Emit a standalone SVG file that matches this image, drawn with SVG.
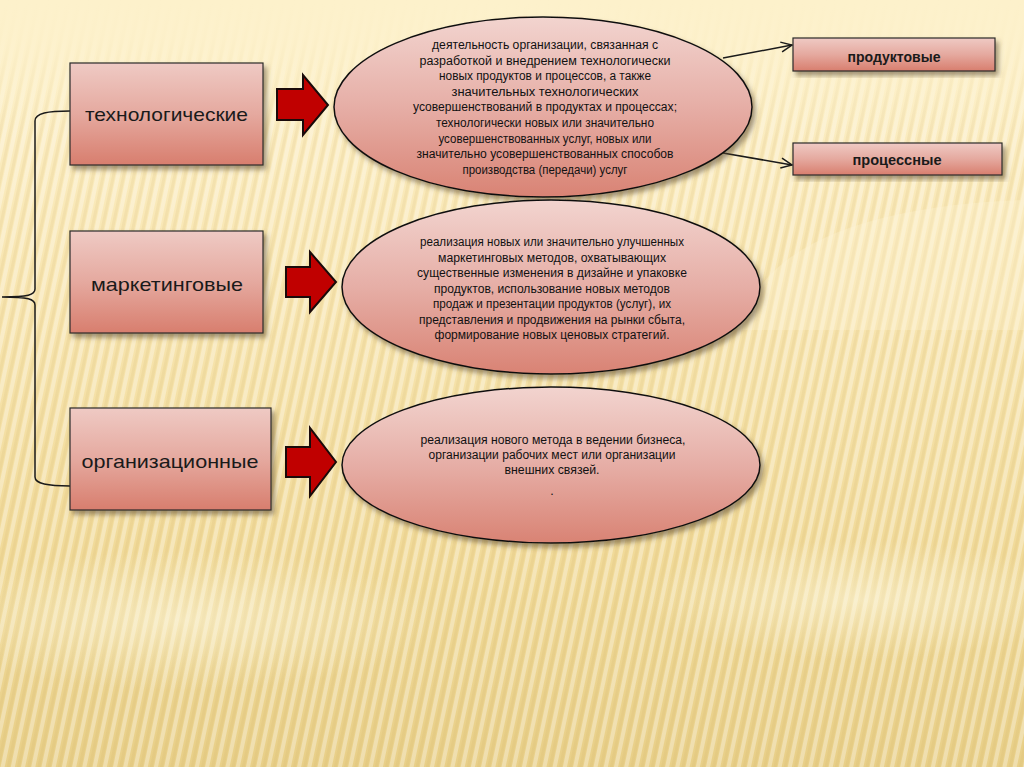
<svg xmlns="http://www.w3.org/2000/svg" width="1024" height="767" viewBox="0 0 1024 767">
<defs>
  <linearGradient id="bg" x1="0" y1="0" x2="0" y2="1">
    <stop offset="0" stop-color="#fdf1cb"/>
    <stop offset="0.35" stop-color="#f8e6b2"/>
    <stop offset="0.75" stop-color="#f0d997"/>
    <stop offset="1" stop-color="#e8cf88"/>
  </linearGradient>
  <linearGradient id="fadeTop" x1="0" y1="0" x2="0" y2="1">
    <stop offset="0" stop-color="#fdf1cb" stop-opacity="1"/>
    <stop offset="0.05" stop-color="#fdf1cb" stop-opacity="0.9"/>
    <stop offset="0.18" stop-color="#fdf1cb" stop-opacity="0"/>
  </linearGradient>
  <pattern id="stripes" width="10" height="40" patternUnits="userSpaceOnUse" patternTransform="rotate(12)">
    <rect x="0" y="0" width="4" height="40" fill="#ffffff" opacity="0.32"/>
    <rect x="6" y="0" width="3" height="40" fill="#c9a95a" opacity="0.12"/>
  </pattern>
  <radialGradient id="glow" cx="0.5" cy="0.5" r="0.5">
    <stop offset="0" stop-color="#fffbe6" stop-opacity="0.5"/>
    <stop offset="1" stop-color="#fffbe6" stop-opacity="0"/>
  </radialGradient>
  <linearGradient id="boxGrad" x1="0" y1="0" x2="0" y2="1">
    <stop offset="0" stop-color="#efcac4"/>
    <stop offset="0.5" stop-color="#e5a99f"/>
    <stop offset="1" stop-color="#d87e6e"/>
  </linearGradient>
  <linearGradient id="ellGrad" x1="0" y1="0" x2="0" y2="1">
    <stop offset="0" stop-color="#f2d4cf"/>
    <stop offset="0.5" stop-color="#e6aea6"/>
    <stop offset="1" stop-color="#d98374"/>
  </linearGradient>
  <filter id="shadow" x="-10%" y="-10%" width="125%" height="130%">
    <feDropShadow dx="3" dy="4" stdDeviation="2.5" flood-color="#5a4a30" flood-opacity="0.55"/>
  </filter>
  <marker id="open" markerWidth="14" markerHeight="12" refX="12" refY="6" orient="auto" markerUnits="userSpaceOnUse">
    <path d="M1,1 L12,6 L1,11" fill="none" stroke="#1a1a1a" stroke-width="1.5"/>
  </marker>
  <style>
    .box { fill: url(#boxGrad); stroke: #2a2a2a; stroke-width: 1.2; filter: url(#shadow); }
    .ell { fill: url(#ellGrad); stroke: #111; stroke-width: 1.5; filter: url(#shadow); }
    .arrow { fill: #c00000; stroke: #1a0a0a; stroke-width: 2; stroke-linejoin: miter; }
    .lbl { font-family: "Liberation Sans", Arial, sans-serif; font-size: 18.5px; fill: #1a1a1a; text-anchor: middle; }
    .lblb { font-family: "Liberation Sans", Arial, sans-serif; font-size: 15px; font-weight: bold; fill: #1a1a1a; text-anchor: middle; }
    .et { font-family: "Liberation Sans", Arial, sans-serif; font-size: 12.5px; fill: #111; text-anchor: middle; }
    .conn { fill: none; stroke: #1a1a1a; stroke-width: 1.5; }
  </style>
</defs>

<!-- background -->
<rect x="0" y="0" width="1024" height="767" fill="url(#bg)"/>
<rect x="0" y="0" width="1024" height="767" fill="url(#stripes)"/>
<rect x="0" y="0" width="1024" height="767" fill="url(#fadeTop)"/>
<path d="M740,330 C760,240 880,205 1024,200 L1024,330 Z" fill="#fff6d8" opacity="0.3"/>
<ellipse cx="180" cy="620" rx="260" ry="70" fill="url(#glow)"/>
<ellipse cx="860" cy="600" rx="220" ry="60" fill="url(#glow)"/>

<!-- connectors -->
<g id="connectors">
  <path class="conn" d="M70,111 C48,111 35,113 35,121 L35,289 C35,295 28,297 2,297 C28,297 35,299 35,305 L35,477 C35,484 48,486 70,486"/>
  <line class="conn" x1="723" y1="58" x2="792" y2="45" marker-end="url(#open)"/>
  <line class="conn" x1="723" y1="153" x2="792" y2="165" marker-end="url(#open)"/>
  <path class="arrow" d="M277,89 H303 V75 L328,105 L303,135 V120 H277 Z"/>
  <path class="arrow" d="M286,267 H310 V252 L336,282 L310,312 V297 H286 Z"/>
  <path class="arrow" d="M286,447 H310 V428 L336,462 L310,496 V477 H286 Z"/>
</g>

<!-- left boxes -->
<g id="n-tech">
  <rect class="box" x="70" y="63" width="193" height="102"/>
  <text class="lbl" x="166.5" y="121" textLength="163" lengthAdjust="spacingAndGlyphs">технологические</text>
</g>
<g id="n-mark">
  <rect class="box" x="70" y="231" width="193" height="102"/>
  <text class="lbl" x="167" y="291" textLength="152" lengthAdjust="spacingAndGlyphs">маркетинговые</text>
</g>
<g id="n-org">
  <rect class="box" x="70" y="408" width="201" height="102"/>
  <text class="lbl" x="170" y="468" textLength="177" lengthAdjust="spacingAndGlyphs">организационные</text>
</g>

<!-- ellipses -->
<g id="e-tech">
  <ellipse class="ell" cx="543" cy="107" rx="209" ry="90"/>
  <text class="et" x="545" y="49" textLength="226" lengthAdjust="spacingAndGlyphs">деятельность организации, связанная с</text>
  <text class="et" x="545" y="65" textLength="251" lengthAdjust="spacingAndGlyphs">разработкой и внедрением технологически</text>
  <text class="et" x="545" y="80" textLength="212" lengthAdjust="spacingAndGlyphs">новых продуктов и процессов, а также</text>
  <text class="et" x="545" y="96" textLength="187" lengthAdjust="spacingAndGlyphs">значительных технологических</text>
  <text class="et" x="545" y="111" textLength="264" lengthAdjust="spacingAndGlyphs">усовершенствований в продуктах и процессах;</text>
  <text class="et" x="545" y="127" textLength="218" lengthAdjust="spacingAndGlyphs">технологически новых или значительно</text>
  <text class="et" x="545" y="143" textLength="213" lengthAdjust="spacingAndGlyphs">усовершенствованных услуг, новых или</text>
  <text class="et" x="545" y="158" textLength="257" lengthAdjust="spacingAndGlyphs">значительно усовершенствованных способов</text>
  <text class="et" x="545" y="174" textLength="165" lengthAdjust="spacingAndGlyphs">производства (передачи) услуг</text>
</g>
<g id="e-mark">
  <ellipse class="ell" cx="551" cy="287" rx="209" ry="87"/>
  <text class="et" x="552" y="246" textLength="264" lengthAdjust="spacingAndGlyphs">реализация новых или значительно улучшенных</text>
  <text class="et" x="552" y="262" textLength="228" lengthAdjust="spacingAndGlyphs">маркетинговых методов, охватывающих</text>
  <text class="et" x="552" y="277" textLength="270" lengthAdjust="spacingAndGlyphs">существенные изменения в дизайне и упаковке</text>
  <text class="et" x="552" y="293" textLength="236" lengthAdjust="spacingAndGlyphs">продуктов, использование новых методов</text>
  <text class="et" x="552" y="308" textLength="238" lengthAdjust="spacingAndGlyphs">продаж и презентации продуктов (услуг), их</text>
  <text class="et" x="552" y="324" textLength="266" lengthAdjust="spacingAndGlyphs">представления и продвижения на рынки сбыта,</text>
  <text class="et" x="552" y="339" textLength="235" lengthAdjust="spacingAndGlyphs">формирование новых ценовых стратегий.</text>
</g>
<g id="e-org">
  <ellipse class="ell" cx="551" cy="465" rx="209" ry="78"/>
  <text class="et" x="553" y="444" textLength="265" lengthAdjust="spacingAndGlyphs">реализация нового метода в ведении бизнеса,</text>
  <text class="et" x="552" y="459" textLength="247" lengthAdjust="spacingAndGlyphs">организации рабочих мест или организации</text>
  <text class="et" x="552" y="474" textLength="95" lengthAdjust="spacingAndGlyphs">внешних связей.</text>
  <text class="et" x="552" y="495">.</text>
</g>

<!-- right boxes -->
<g id="n-prod">
  <rect class="box" x="793" y="38" width="202" height="33"/>
  <text class="lblb" x="894" y="62" textLength="93" lengthAdjust="spacingAndGlyphs">продуктовые</text>
</g>
<g id="n-proc">
  <rect class="box" x="793" y="143" width="209" height="32"/>
  <text class="lblb" x="897" y="165" textLength="89" lengthAdjust="spacingAndGlyphs">процессные</text>
</g>
</svg>
